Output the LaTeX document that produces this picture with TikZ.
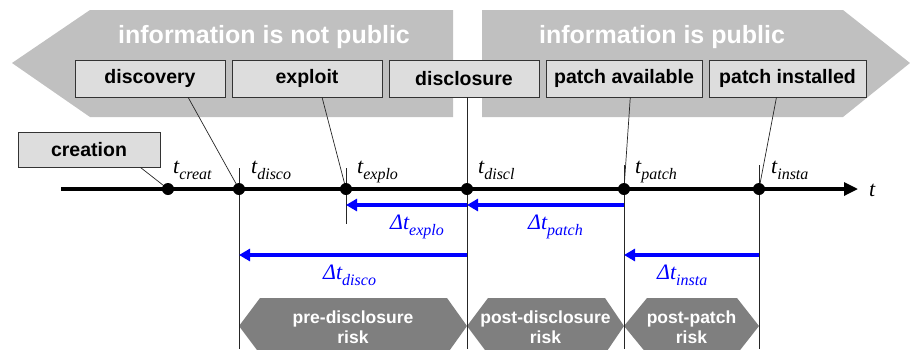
\documentclass[tikz,border=0pt]{standalone}
\usepackage{fontspec}
\setmainfont{Liberation Sans}
\newfontfamily\tms{Liberation Serif}
\usetikzlibrary{arrows.meta,calc}
\definecolor{bannergray}{RGB}{192,192,192}
\definecolor{boxgray}{RGB}{221,221,221}
\definecolor{hexgray}{RGB}{127,127,127}
\definecolor{dtblue}{RGB}{0,0,255}
\newcommand\mytsub[2]{#1\lower6pt\hbox{\fontsize{16}{16}\selectfont #2}}
\begin{document}
\begin{tikzpicture}[x=1pt,y=-1pt,
 banner/.style={fill=bannergray},
 bannertext/.style={text=white,anchor=base,inner sep=0pt,font=\bfseries\fontsize{25}{25}\selectfont},
 evbox/.style={draw=black!80,line width=0.8pt,fill=boxgray,inner sep=0pt,minimum height=37pt,font=\bfseries\fontsize{19.5}{19.5}\selectfont},
 dot/.style={circle,fill=black,inner sep=0pt,minimum size=12pt},
 leader/.style={line width=0.7pt,black!85},
 timeline/.style={line width=3.2pt,-{Triangle[length=14pt,width=13pt]}},
 darrow/.style={draw=dtblue,line width=3.2pt,-{Triangle[length=11pt,width=12pt]}},
 tlabel/.style={anchor=base west,inner sep=0pt,font=\tms\itshape\fontsize{22}{22}\selectfont},
 hexa/.style={fill=hexgray},
 hextext/.style={text=white,align=center,inner sep=0pt,font=\bfseries\fontsize{17.5}{20}\selectfont}
]
\clip (0,0) rectangle (910,349);
% banners
\path[banner] (12,63) -- (90,10) -- (453,10) -- (453,117) -- (90,117) -- cycle;
\path[banner] (482,10) -- (843,10) -- (910,63) -- (843,117) -- (482,117) -- cycle;
\node[bannertext] (np) at (264,43) {information is not public};
\node[bannertext] (pub) at (662,43) {information is public};
% event boxes
\node[evbox,minimum width=150pt] (disc) at (150,78.5) {discovery};
\node[evbox,minimum width=150pt] (expl) at (307,78.5) {exploit};
\node[evbox,minimum width=150pt] (dscl) at (464,78.5) {disclosure};
\node[evbox,minimum width=156pt] (pav) at (624,78.5) {patch available};
\node[evbox,minimum width=157pt] (pin) at (787.5,78.5) {patch installed};
\node[evbox,minimum width=142pt,minimum height=35pt] (crea) at (89,149.5) {creation};
% hexagons
\path[hexa] (239,326) -- (260,298) -- (447,298) -- (467,326) -- (447,354) -- (260,354) -- cycle;
\path[hexa] (467,326) -- (488,298) -- (605,298) -- (624,326) -- (605,354) -- (488,354) -- cycle;
\path[hexa] (624,326) -- (647,298) -- (737,298) -- (759,326) -- (737,354) -- (647,354) -- cycle;
\node[hextext] (hpre) at (353,327) {pre-disclosure\\risk};
\node[hextext] (hpost) at (545.5,327) {post-disclosure\\risk};
\node[hextext] (hpatch) at (691.5,327) {post-patch\\risk};
% timeline
\coordinate (tstart) at (61,189);
\coordinate (tend) at (858,189);
\draw[timeline] (tstart) -- (tend);
\coordinate (dcreatp) at (168,189);
\coordinate (ddiscop) at (239,189);
\coordinate (dexplop) at (346,189);
\coordinate (ddisclp) at (467,189);
\coordinate (dpatchp) at (624,189);
\coordinate (dinstap) at (759,189);
\coordinate (ybot) at (0,349);
% vertical lines
\draw[leader] ($(ddiscop)+(0,-21)$) -- (ddiscop |- ybot);
\draw[leader] ($(dexplop)+(0,-21)$) -- ($(dexplop)+(0,35)$);
\draw[leader] (dscl.south -| ddisclp) -- (ddisclp |- ybot);
\draw[leader] ($(dpatchp)+(0,-24)$) -- (dpatchp |- ybot);
\draw[leader] ($(dinstap)+(0,-24)$) -- (dinstap |- ybot);
% leaders
\draw[leader] ($(disc.south west)!0.753!(disc.south east)$) -- (ddiscop);
\draw[leader] ($(expl.south west)!0.6!(expl.south east)$) -- (dexplop);
\draw[leader] ($(pav.south west)!0.54!(pav.south east)$) -- (dpatchp);
\draw[leader] ($(pin.south west)!0.43!(pin.south east)$) -- (dinstap);
\draw[leader] ($(crea.south west)!0.86!(crea.south east)$) -- (dcreatp);
% dots
\node[dot] (dcreat) at (dcreatp) {};
\node[dot] (ddisco) at (ddiscop) {};
\node[dot] (dexplo) at (dexplop) {};
\node[dot] (ddiscl) at (ddisclp) {};
\node[dot] (dpatch) at (dpatchp) {};
\node[dot] (dinsta) at (dinstap) {};
% time labels
\node[tlabel] (lcreat) at (173,173) {\mytsub{t}{creat}};
\node[tlabel] (ldisco) at (251,173) {\mytsub{t}{disco}};
\node[tlabel] (lexplo) at (357,173) {\mytsub{t}{explo}};
\node[tlabel] (ldiscl) at (478,173) {\mytsub{t}{discl}};
\node[tlabel] (lpatch) at (635,173) {\mytsub{t}{patch}};
\node[tlabel] (linsta) at (771,173) {\mytsub{t}{insta}};
\node[tlabel] (lt) at (869,196) {t};
% delta arrows
\coordinate (ya) at (0,205);
\coordinate (yb) at (0,255);
\draw[darrow] (ddiscl |- ya) -- (dexplo |- ya);
\draw[darrow] (dpatch |- ya) -- (ddiscl |- ya);
\draw[darrow] (ddiscl |- yb) -- (ddisco |- yb);
\draw[darrow] (dinsta |- yb) -- (dpatch |- yb);
\node[tlabel,text=dtblue] (dlexplo) at (390,229) {\mytsub{Δt}{explo}};
\node[tlabel,text=dtblue] (dlpatch) at (528,229) {\mytsub{Δt}{patch}};
\node[tlabel,text=dtblue] (dldisco) at (323,279) {\mytsub{Δt}{disco}};
\node[tlabel,text=dtblue] (dlinsta) at (657,279) {\mytsub{Δt}{insta}};
\end{tikzpicture}
\end{document}
